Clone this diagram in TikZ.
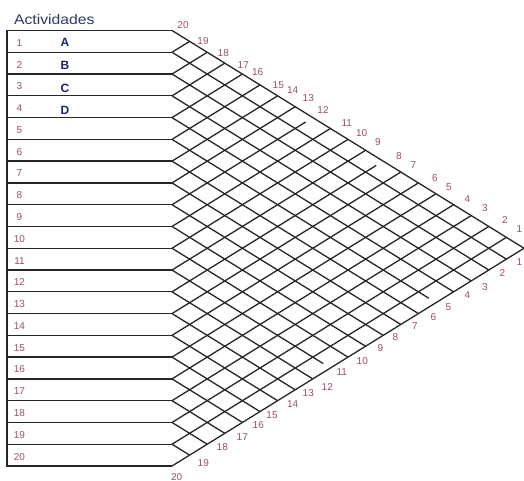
\documentclass[tikz,border=0pt]{standalone}
\usepackage{fontspec}
\setmainfont{Liberation Sans}
\usetikzlibrary{calc}
\definecolor{ActNum}{HTML}{9A4E6C}
\definecolor{ActLetter}{HTML}{1C2470}
\definecolor{ActTitle}{HTML}{2B3A67}
\definecolor{ActLine}{HTML}{262626}

\begin{document}
\begin{tikzpicture}[x=1pt,y=-1pt,
  grid line/.style={ActLine,line width=1.3pt},
  numlabel/.style={text=ActNum,font=\fontsize{10}{12}\selectfont,inner sep=0pt},
  actlabel/.style={text=ActLetter,font=\fontsize{12}{12}\selectfont\bfseries,inner sep=0pt}]
  \useasboundingbox (0,0) rectangle (524,481);
  \clip (0,0) rectangle (524,481);
  \fill[white] (0,0) rectangle (524,481);
  \def\rowh{21.775}
  \def\halfw{17.6}
  % row ends and the two outer edges of the matrix
  \foreach \k in {0,...,20} {
    \coordinate (a\k) at (7,30.5+\k*\rowh);
    \coordinate (b\k) at (172,30.5+\k*\rowh);
    \coordinate (t\k) at (172+\k*\halfw,30.5+\k*\rowh/2);
    \coordinate (e\k) at (172+\k*\halfw,466-\k*\rowh/2);
  }
  % activity rows
  \draw[grid line] (b0) -- (a0) -- (a20) -- (b20);
  \foreach \k in {1,...,19} \draw[grid line] (a\k) -- (b\k);
  % lattice
  \foreach \k in {1,2,3,4,5,6,7,9,10,11,13,14,15,16,17,18,19,20}
    \draw[grid line] (b\k) -- (t\k);
  \draw[grid line] (b8) -- ($(b8)!0.95!(t8)$);
  \draw[grid line] (b12) -- ($(b12)!0.967!(t12)$);
  \foreach \k [evaluate=\k as \m using int(20-\k)] in {0,1,2,3,4,6,7,8,9,10,12,13,14,15,16,17,18,19}
    \draw[grid line] (b\k) -- (e\m);
  \draw[grid line] (b5) -- ($(b5)!0.973!(e15)$);
  \draw[grid line] (b11) -- ($(b11)!0.955!(e9)$);
  % labels
  \node[anchor=base west,text=ActTitle,font=\fontsize{14}{16}\selectfont,inner sep=0pt] (title) at (14,24.5) {\scalebox{1.12}[1]{Actividades}};
  \foreach \k in {1,...,20}
    \node[numlabel] (r\k) at (19.5,30.5+\k*\rowh-\rowh/2+1.5) {\k};
  \foreach \txt/\y in {A/42.5,B/65.5,C/88.5,D/110.5}
    \node[actlabel] (act\txt) at (65,\y) {\txt};
  \foreach \n/\x/\y in {20/183/25,19/203/41,18/223.3/53.3,17/243.3/65,16/257.7/72.3,
      15/278.3/85,14/292.7/90.3,13/308.3/98.5,12/323/110,11/346.7/123,10/361.7/133,
      9/378/142.3,8/399/156,7/413.3/165,6/435/177.7,5/449/187.3,4/467.3/199,
      3/485/208.3,2/505/220,1/519.5/229}
    \node[numlabel] (top\n) at (\x,\y) {\n};
  \foreach \n/\x/\y in {20/176.7/476.7,19/203.3/463.3,18/222.3/446.7,17/242.3/436.7,
      16/258.3/425.3,15/272/415,14/292.7/404.3,13/308.3/393.3,12/327.3/386.7,
      11/341.7/372.3,10/362.3/361.5,9/380.3/348.3,8/395.5/337.3,7/415/326,
      6/433.3/316.7,5/448.3/306.7,4/467.3/295,3/485/286.7,2/502.3/273.3,1/519.5/262}
    \node[numlabel] (bot\n) at (\x,\y) {\n};
\end{tikzpicture}
\end{document}
